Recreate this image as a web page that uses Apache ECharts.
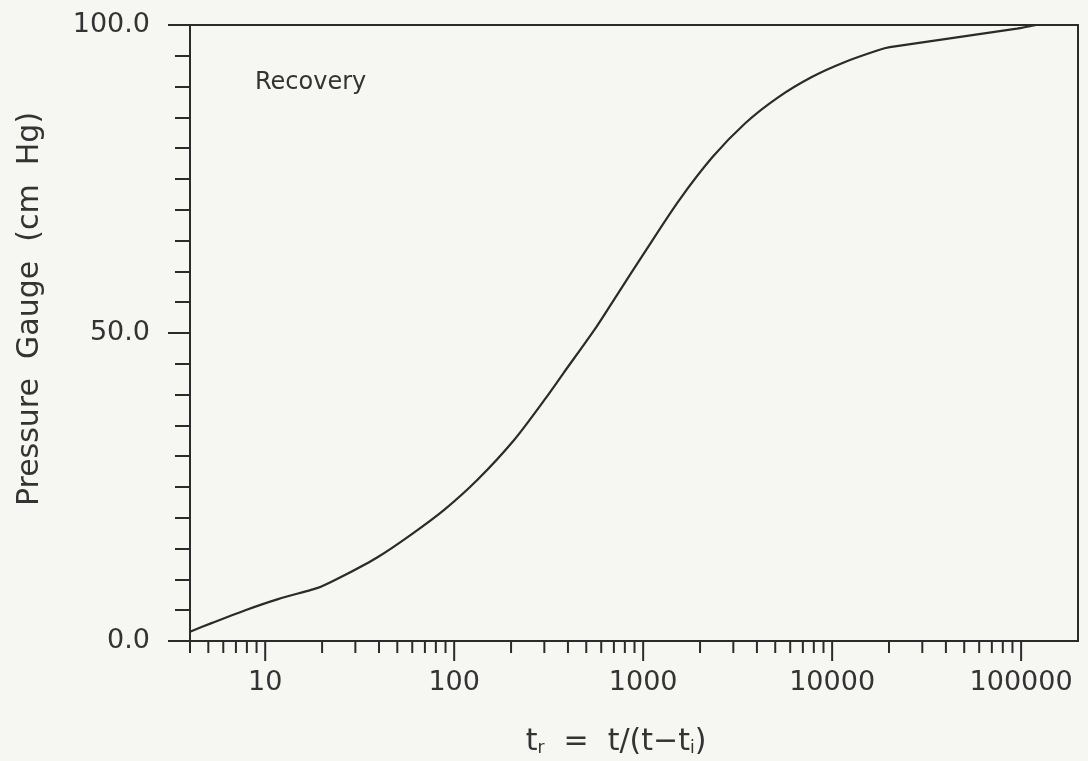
<!DOCTYPE html>
<html><head><meta charset="utf-8">
<script src="https://cdn.jsdelivr.net/npm/echarts@6/dist/echarts.min.js"></script>
<style>html,body{margin:0;padding:0;background:#f6f6f3}#c{width:1088px;height:761px}</style>
</head><body><div id="c"></div>
<script>
// recovery ratio t_r = t/(t - t_i)
const trValues = [4, 5.2, 7.85, 11.7, 17.5, 19.7, 26.4, 39.3, 58.7, 88.5, 132, 207, 308, 379, 566, 721, 1038, 1546, 2334, 3480, 5200, 7850, 11700, 17500, 20200, 95000, 120000];
// pressure gauge reading (cm Hg)
const pressureValues = [1.5, 2.9, 5.0, 6.8, 8.3, 8.8, 10.7, 13.6, 17.2, 21.3, 26.1, 32.6, 39.6, 43.5, 51.0, 56.0, 63.5, 71.5, 78.6, 84.1, 88.3, 91.6, 94.0, 95.9, 96.4, 99.4, 100];
const xMajorTicks = [10, 100, 1000, 10000, 100000];
const xMinorTicks = [4, 5, 6, 7, 8, 9, 20, 30, 40, 50, 60, 70, 80, 90, 200, 300, 400, 500, 600, 700, 800, 900,
  2000, 3000, 4000, 5000, 6000, 7000, 8000, 9000, 20000, 30000, 40000, 50000, 60000, 70000, 80000, 90000];
const yTickLabels = ['0.0', '50.0', '100.0'];
const xTitle = 't{s|r}  =  t/(t\u2212t{s|i})';
const yTitle = 'Pressure  Gauge  (cm  Hg)';
const noteText = 'Recovery';

const ink = '#2b2b2b';
const FONT = '"DejaVu Sans", sans-serif';
const chart = echarts.init(document.getElementById('c'));
const lineData = trValues.map((x, i) => [x, pressureValues[i]]);
const tickData = xMajorTicks.map(v => [v, 1]).concat(xMinorTicks.map(v => [v, 0]));

chart.setOption({
  backgroundColor: '#f6f6f3',
  animation: false,
  grid: { left: 190, right: 10, top: 25, bottom: 120, show: true, borderColor: ink, borderWidth: 2, backgroundColor: 'transparent' },
  xAxis: {
    type: 'log', logBase: 10, min: 4, max: 200000,
    axisLine: { show: true, lineStyle: { color: ink, width: 2 } },
    axisTick: { show: false },
    splitLine: { show: false },
    minorTick: { show: false },
    axisLabel: {
      margin: 28, color: '#333', fontFamily: FONT, fontSize: 27,
      formatter: v => { const r = Math.round(v); return xMajorTicks.includes(r) ? String(r) : ''; }
    }
  },
  yAxis: [
    { type: 'value', min: 0, max: 100, interval: 5, position: 'left', offset: 0,
      axisLine: { show: true, lineStyle: { color: ink, width: 2 } },
      axisTick: { show: true, length: 15, lineStyle: { color: ink, width: 2 } },
      axisLabel: { show: false }, splitLine: { show: false } },
    { type: 'value', min: 0, max: 100, interval: 50, position: 'left', offset: 0,
      axisLine: { show: true, lineStyle: { color: ink, width: 2 } },
      axisTick: { show: true, length: 22, lineStyle: { color: ink, width: 2 } },
      axisLabel: { margin: 40, color: '#333', fontFamily: FONT, fontSize: 27,
        formatter: v => yTickLabels[Math.round(v / 50)] },
      splitLine: { show: false } }
  ],
  series: [
    { type: 'line', xAxisIndex: 0, yAxisIndex: 0, data: lineData, showSymbol: false,
      smooth: 0.3,
      lineStyle: { color: ink, width: 2.2 } },
    { type: 'custom', xAxisIndex: 0, yAxisIndex: 0, clip: false, data: tickData, silent: true,
      renderItem: (params, api) => {
        const p = api.coord([api.value(0), 0]);
        const len = api.value(1) ? 20 : 12;
        return { type: 'line', shape: { x1: p[0], y1: p[1], x2: p[0], y2: p[1] + len },
          style: { stroke: ink, lineWidth: 2 } };
      } }
  ],
  graphic: [
    { type: 'text', x: 255, y: 83, style: { text: noteText, font: '24px ' + FONT, fill: '#333', textAlign: 'left', textVerticalAlign: 'middle' } },
    { type: 'text', x: 30, y: 309, rotation: Math.PI / 2,
      style: { text: yTitle, font: '30px ' + FONT, fill: '#333', textAlign: 'center', textVerticalAlign: 'middle' } },
    { type: 'text', x: 616, y: 742,
      style: { text: xTitle, font: '30px ' + FONT, fill: '#333', textAlign: 'center', textVerticalAlign: 'middle',
        rich: { s: { fontSize: 17, fontFamily: FONT, fill: '#333', padding: [13, 0, 0, 0] } } } }
  ]
});
</script></body></html>
